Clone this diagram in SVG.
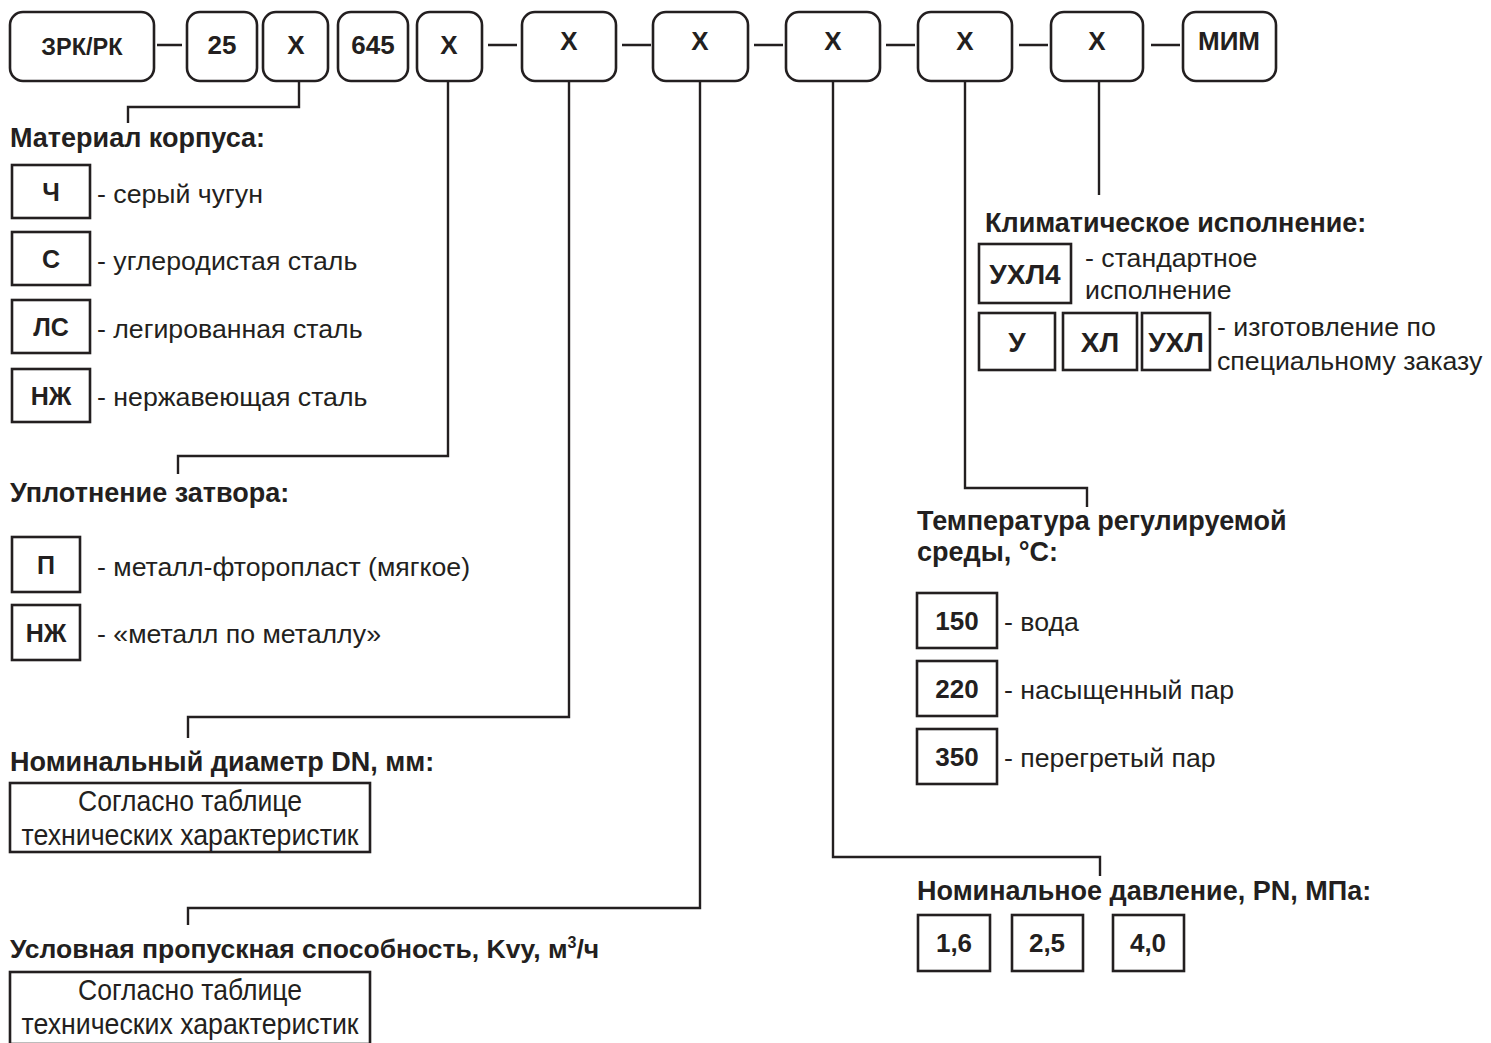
<svg xmlns="http://www.w3.org/2000/svg" width="1491" height="1043" viewBox="0 0 1491 1043">
<style>
  .rb { fill: #fff; stroke: #231f20; stroke-width: 2.6; }
  .sb { fill: #fff; stroke: #231f20; stroke-width: 2.6; }
  .ln { fill: none; stroke: #231f20; stroke-width: 2.4; }
  text { font-family: "Liberation Sans", Arial, sans-serif; fill: #231f20; }
  .big { font-size: 26px; font-weight: bold; text-anchor: middle; }
  .hd { font-size: 27px; font-weight: bold; }
  .ob { font-size: 25px; font-weight: bold; text-anchor: middle; }
  .ob2 { font-size: 26px; font-weight: bold; text-anchor: middle; }
  .ob3 { font-size: 28px; font-weight: bold; text-anchor: middle; }
  .lb { font-size: 26.7px; }
  .nt { font-size: 29px; text-anchor: middle; }
</style>
<rect width="1491" height="1043" fill="#fff"/>

<g id="connectors">
  <path class="ln" d="M157 45H182M488 45H517M622 45H651M754 45H783M886 45H915M1019 45H1048M1151 45H1180"/>
  <path class="ln" d="M299 81V107H128V123"/>
  <path class="ln" d="M448 81V456H178V474"/>
  <path class="ln" d="M569 81V717H188V738"/>
  <path class="ln" d="M700 81V908H188V925"/>
  <path class="ln" d="M833 81V857H1100V876"/>
  <path class="ln" d="M965 81V488H1087V507"/>
  <path class="ln" d="M1099 81V195"/>
</g>

<g id="code-row">
  <g id="n-zrk"><rect class="rb" x="10" y="12" width="144" height="69" rx="13"/><text class="big" x="82" y="55" style="font-size:23.5px">ЗРК/РК</text></g>
  <g id="n-25"><rect class="rb" x="187" y="12" width="70" height="69" rx="13"/><text class="big" x="222" y="54">25</text></g>
  <g id="n-x1"><rect class="rb" x="263" y="12" width="65" height="69" rx="13"/><text class="big" x="296" y="54">X</text></g>
  <g id="n-645"><rect class="rb" x="338" y="12" width="70" height="69" rx="13"/><text class="big" x="373" y="54">645</text></g>
  <g id="n-x2"><rect class="rb" x="417" y="12" width="65" height="69" rx="13"/><text class="big" x="449" y="54">X</text></g>
  <g id="n-x3"><rect class="rb" x="522" y="12" width="94" height="69" rx="13"/><text class="big" x="569" y="50">X</text></g>
  <g id="n-x4"><rect class="rb" x="653" y="12" width="95" height="69" rx="13"/><text class="big" x="700" y="50">X</text></g>
  <g id="n-x5"><rect class="rb" x="786" y="12" width="94" height="69" rx="13"/><text class="big" x="833" y="50">X</text></g>
  <g id="n-x6"><rect class="rb" x="918" y="12" width="94" height="69" rx="13"/><text class="big" x="965" y="50">X</text></g>
  <g id="n-x7"><rect class="rb" x="1051" y="12" width="92" height="69" rx="13"/><text class="big" x="1097" y="50">X</text></g>
  <g id="n-mim"><rect class="rb" x="1183" y="12" width="93" height="69" rx="13"/><text class="big" x="1229" y="50">МИМ</text></g>
</g>

<g id="material">
  <text class="hd" x="10" y="147">Материал корпуса:</text>
  <rect class="sb" x="12" y="165" width="78" height="53"/><text class="ob" x="51" y="201">Ч</text><text class="lb" x="97" y="203">- серый чугун</text>
  <rect class="sb" x="12" y="232" width="78" height="53"/><text class="ob" x="51" y="268">С</text><text class="lb" x="97" y="270">- углеродистая сталь</text>
  <rect class="sb" x="12" y="300" width="78" height="53"/><text class="ob" x="51" y="336">ЛС</text><text class="lb" x="97" y="338">- легированная сталь</text>
  <rect class="sb" x="12" y="369" width="78" height="53"/><text class="ob" x="51" y="405">НЖ</text><text class="lb" x="97" y="406">- нержавеющая сталь</text>
</g>

<g id="seal">
  <text class="hd" x="10" y="502">Уплотнение затвора:</text>
  <rect class="sb" x="12" y="537" width="68" height="55"/><text class="ob" x="46" y="574">П</text><text class="lb" x="97" y="576">- металл-фторопласт (мягкое)</text>
  <rect class="sb" x="12" y="605" width="68" height="55"/><text class="ob" x="46" y="642">НЖ</text><text class="lb" x="97" y="643">- «металл по металлу»</text>
</g>

<g id="dn">
  <text class="hd" x="10" y="771">Номинальный диаметр DN, мм:</text>
  <rect class="sb" x="10" y="783" width="360" height="69"/>
  <text class="nt" x="190" y="811" textLength="224" lengthAdjust="spacingAndGlyphs">Согласно таблице</text>
  <text class="nt" x="190" y="845" textLength="337" lengthAdjust="spacingAndGlyphs">технических характеристик</text>
</g>

<g id="kvy">
  <text class="hd" x="10" y="958" style="font-size:26.5px">Условная пропускная способность, Kvy, м<tspan dy="-10" font-size="16">3</tspan><tspan dy="10">/ч</tspan></text>
  <rect class="sb" x="10" y="972" width="360" height="72"/>
  <text class="nt" x="190" y="1000" textLength="224" lengthAdjust="spacingAndGlyphs">Согласно таблице</text>
  <text class="nt" x="190" y="1034" textLength="337" lengthAdjust="spacingAndGlyphs">технических характеристик</text>
</g>

<g id="climate">
  <text class="hd" x="985" y="232">Климатическое исполнение:</text>
  <rect class="sb" x="979" y="244" width="92" height="59"/><text class="ob3" x="1025" y="284">УХЛ4</text>
  <text class="lb" x="1085" y="267">- стандартное</text>
  <text class="lb" x="1085" y="299">исполнение</text>
  <rect class="sb" x="979" y="313" width="76" height="57"/><text class="ob3" x="1017" y="352">У</text>
  <rect class="sb" x="1063" y="313" width="74" height="57"/><text class="ob3" x="1100" y="352">ХЛ</text>
  <rect class="sb" x="1142" y="313" width="68" height="57"/><text class="ob3" x="1176" y="352">УХЛ</text>
  <text class="lb" x="1217" y="336">- изготовление по</text>
  <text class="lb" x="1217" y="370">специальному заказу</text>
</g>

<g id="temperature">
  <text class="hd" x="917" y="530">Температура регулируемой</text>
  <text class="hd" x="917" y="561">среды, °С:</text>
  <rect class="sb" x="917" y="593" width="80" height="55"/><text class="ob2" x="957" y="630">150</text><text class="lb" x="1004" y="631">- вода</text>
  <rect class="sb" x="917" y="661" width="80" height="55"/><text class="ob2" x="957" y="698">220</text><text class="lb" x="1004" y="699">- насыщенный пар</text>
  <rect class="sb" x="917" y="729" width="80" height="55"/><text class="ob2" x="957" y="766">350</text><text class="lb" x="1004" y="767">- перегретый пар</text>
</g>

<g id="pressure">
  <text class="hd" x="917" y="900">Номинальное давление, PN, МПа:</text>
  <rect class="sb" x="918" y="915" width="72" height="56"/><text class="ob2" x="954" y="952">1,6</text>
  <rect class="sb" x="1012" y="915" width="71" height="56"/><text class="ob2" x="1047" y="952">2,5</text>
  <rect class="sb" x="1113" y="915" width="71" height="56"/><text class="ob2" x="1148" y="952">4,0</text>
</g>
</svg>
